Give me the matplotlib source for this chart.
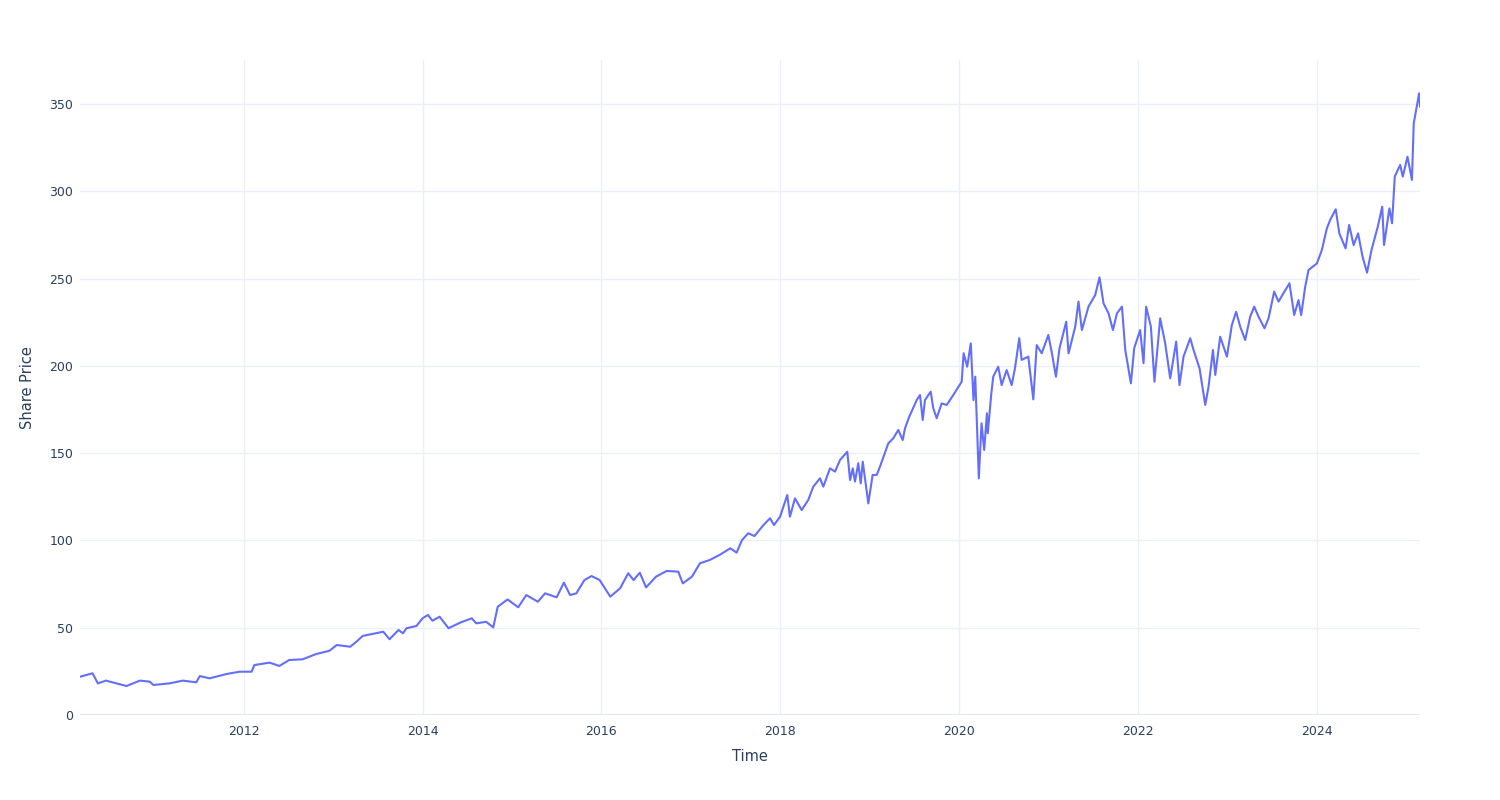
import matplotlib
matplotlib.use("Agg")
import matplotlib.pyplot as plt
import matplotlib.dates as mdates
import pandas as pd
import numpy as np

# ---- values (decimal years, share price) ----
years_a = [
    2010.17, 2010.31, 2010.37, 2010.46, 2010.69, 2010.84, 2010.95, 2010.99, 2011.17, 2011.32,
    2011.47, 2011.51, 2011.62, 2011.81, 2011.955, 2012.09, 2012.12, 2012.29, 2012.40, 2012.51,
    2012.66, 2012.81, 2012.96, 2013.04, 2013.19, 2013.26, 2013.33, 2013.56, 2013.63, 2013.73,
    2013.78, 2013.82, 2013.93, 2014.0, 2014.06,
]
prices_a = [
    21.9, 23.9, 18.1, 19.7, 16.6, 19.7, 19.1, 17.2, 18.1, 19.7,
    18.7, 22.3, 21.0, 23.5, 24.8, 24.8, 28.6, 30.0, 28.1, 31.5,
    31.9, 34.9, 36.8, 40.1, 39.1, 42.0, 45.3, 47.7, 43.4, 48.7,
    46.8, 49.7, 51.0, 55.4, 57.3,
]

years_b = [
    2014.11, 2014.19, 2014.29, 2014.42, 2014.55, 2014.60, 2014.71, 2014.79, 2014.84, 2014.95,
    2015.07, 2015.16, 2015.29, 2015.37, 2015.50, 2015.58, 2015.65, 2015.72, 2015.81, 2015.89,
    2015.98, 2016.04, 2016.10, 2016.21, 2016.30, 2016.36, 2016.43, 2016.50, 2016.61, 2016.73,
    2016.86, 2016.91, 2017.01, 2017.10, 2017.21, 2017.32, 2017.44, 2017.51, 2017.57, 2017.64,
    2017.71, 2017.81,
]
prices_b = [
    54.0, 56.3, 49.7, 52.9, 55.4, 52.5, 53.4, 50.2, 62.0, 66.2,
    61.7, 68.7, 64.9, 69.7, 67.4, 75.8, 68.7, 69.7, 77.3, 79.6,
    77.3, 72.6, 67.8, 72.6, 81.2, 77.3, 81.5, 73.1, 79.2, 82.5,
    82.1, 75.4, 79.2, 86.9, 88.8, 91.7, 95.5, 93.0, 100.2, 104.1,
    102.5, 108.8,
]

years_c = [
    2017.884, 2017.928, 2017.996, 2018.077, 2018.107, 2018.163, 2018.238, 2018.312, 2018.368, 2018.443,
    2018.480, 2018.555, 2018.611, 2018.667, 2018.748, 2018.779, 2018.809, 2018.834, 2018.871, 2018.898,
    2018.921, 2018.983, 2019.032, 2019.077, 2019.114, 2019.207, 2019.263, 2019.319, 2019.368, 2019.394,
    2019.442, 2019.525, 2019.562, 2019.592, 2019.617, 2019.681, 2019.710, 2019.748, 2019.804, 2019.860,
    2019.934, 2020.028,
]
prices_c = [
    112.7, 108.8, 113.6, 126.0, 113.6, 124.1, 117.4, 123.2, 130.8, 135.6,
    130.8, 141.3, 139.4, 146.1, 150.8, 134.6, 141.3, 133.7, 144.2, 132.7,
    145.1, 121.2, 137.5, 137.5, 142.2, 155.6, 158.5, 163.3, 157.5, 164.2,
    170.9, 180.4, 183.3, 169.0, 180.4, 185.2, 175.7, 170.0, 178.5, 177.6,
    183.3, 190.9,
]

years_d = [
    2020.05, 2020.09, 2020.13, 2020.16, 2020.18, 2020.22, 2020.25, 2020.28, 2020.31, 2020.32,
    2020.36, 2020.381, 2020.437, 2020.475, 2020.531, 2020.587, 2020.624, 2020.672, 2020.699, 2020.773,
    2020.829, 2020.867, 2020.923, 2020.997, 2021.035, 2021.080, 2021.120, 2021.195, 2021.221, 2021.296,
    2021.332, 2021.370, 2021.444, 2021.519, 2021.567, 2021.612, 2021.668, 2021.717, 2021.762, 2021.818,
    2021.855, 2021.918, 2021.955, 2022.022, 2022.060, 2022.089, 2022.142, 2022.182,
]
prices_d = [
    207.2, 199.5, 212.9, 180.4, 193.8, 135.6, 167.1, 151.8, 172.8, 161.4,
    184.3, 193.8, 199.5, 189.0, 197.6, 189.0, 198.6, 215.8, 203.4, 205.3,
    180.8, 211.9, 207.2, 217.7, 207.2, 193.8, 210.1, 225.3, 207.2, 222.5,
    236.8, 220.5, 233.9, 240.6, 250.7, 235.8, 230.1, 220.5, 230.1, 233.9,
    209.1, 190.0, 210.1, 220.5, 201.5, 233.9, 222.5, 190.9,
]

years_e = [
    2022.246, 2022.302, 2022.358, 2022.425, 2022.462, 2022.507, 2022.582, 2022.619, 2022.686, 2022.750,
    2022.787, 2022.836, 2022.862, 2022.917, 2022.992, 2023.048, 2023.096, 2023.141, 2023.197, 2023.253,
    2023.298, 2023.346, 2023.413, 2023.458, 2023.521, 2023.570, 2023.625, 2023.692, 2023.745, 2023.793,
    2023.823, 2023.868, 2023.905, 2023.999, 2024.055, 2024.111, 2024.148,
]
prices_e = [
    227.2, 212.9, 192.9, 213.9, 189.0, 205.3, 215.8, 209.1, 198.6, 177.6,
    188.1, 209.1, 194.8, 216.7, 205.3, 223.4, 231.0, 222.5, 214.8, 228.2,
    233.9, 228.2, 221.5, 227.2, 242.5, 236.8, 241.6, 247.3, 229.1, 237.7,
    229.1, 245.3, 254.9, 258.7, 266.4, 278.8, 283.6,
]

years_f = [
    2024.21, 2024.25, 2024.32, 2024.36, 2024.41, 2024.46, 2024.51, 2024.56, 2024.61, 2024.68,
    2024.73, 2024.75, 2024.81, 2024.84, 2024.87, 2024.93, 2024.96, 2025.01, 2025.06, 2025.08,
    2025.14, 2025.15,
]
prices_f = [
    289.7, 275.9, 267.3, 280.7, 269.2, 275.9, 262.5, 253.4, 266.4, 279.7,
    291.2, 269.2, 290.2, 281.7, 308.4, 315.1, 308.4, 319.8, 306.5, 338.9,
    356.1, 348.5,
]

y_ticks = [0, 50, 100, 150, 200, 250, 300, 350]
x_title = "Time"
y_title = "Share Price"

years = years_a + years_b + years_c + years_d + years_e + years_f
prices = prices_a + prices_b + prices_c + prices_d + prices_e + prices_f


def to_date(y):
    yr = int(np.floor(y))
    start = pd.Timestamp(year=yr, month=1, day=1)
    return start + pd.Timedelta(days=(y - yr) * 365.25)


dates = [to_date(v) for v in years]

TEXT = "#2a3f5f"
GRID = "#EBF0F8"

fig = plt.figure(figsize=(15, 8), dpi=100)
ax = fig.add_axes([80 / 1500, 85 / 800, 1340 / 1500, 655 / 800])
ax.plot(dates, prices, color="#636EFA", lw=1.5, solid_joinstyle="round")

ax.set_xlim(dates[0], dates[-1])
ax.set_ylim(0, 375.2)
ax.set_yticks(y_ticks)
ax.xaxis.set_major_locator(mdates.YearLocator(2))
ax.xaxis.set_major_formatter(mdates.DateFormatter("%Y"))

ax.grid(True, color=GRID, lw=1)
ax.set_axisbelow(True)
for s in ax.spines.values():
    s.set_visible(False)
ax.axhline(0, color="#E3E8EF", lw=2.2, zorder=1)

ax.tick_params(axis="both", length=0, colors=TEXT, labelsize=9)
ax.tick_params(axis="x", pad=7)
ax.tick_params(axis="y", pad=5)

ax.set_xlabel(x_title, fontsize=10.5, color=TEXT, labelpad=8)
ax.set_ylabel(y_title, fontsize=10.5, color=TEXT, labelpad=10)

fig.savefig("out.png", dpi=100, facecolor="white")
